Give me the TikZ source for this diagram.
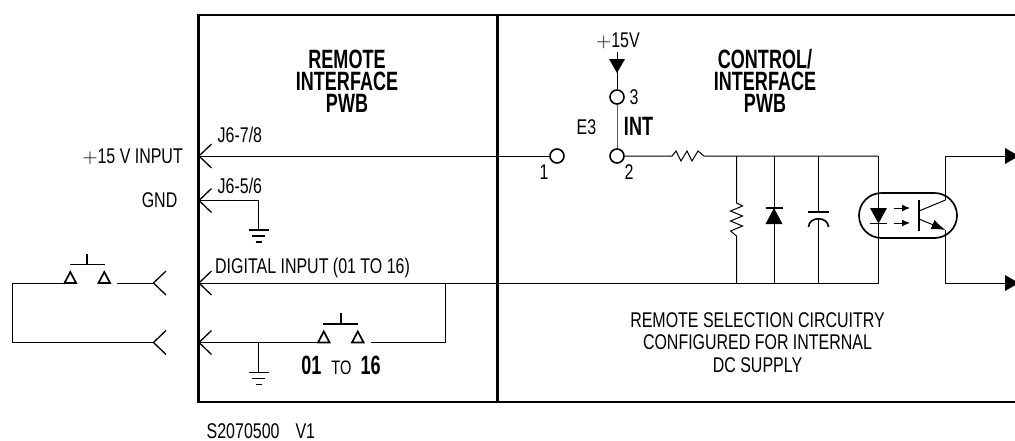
\documentclass[tikz,border=0pt]{standalone}
\usepackage{fontspec}
\setmainfont[FakeStretch=0.75]{Liberation Sans}
\newfontfamily\titlefont[FakeStretch=0.68]{Liberation Sans}
\usetikzlibrary{arrows.meta}
\usetikzlibrary{positioning}
\tikzset{wire/.style = {line width=1pt},
         frame/.style = {line width=2.4pt},
         terminal/.style = {circle, draw, line width=1.6pt, fill=white, minimum size=14pt, inner sep=0pt},
         lbl/.style = {inner sep=0pt, font=\fontsize{21.3}{21.3}\selectfont},
         title/.style = {inner sep=0pt, align=center, font=\titlefont\fontsize{26.5}{22}\selectfont\bfseries}}
\newcommand{\chevron}[1]{\draw [line width=1.3pt] (#1) ++(12.5, -12) -- (#1) -- ++(12.5, 12);}
\newcommand{\earth}[1]{
  \draw [line width=1.7pt] (#1) ++(-10, 0) -- ++(20, 0);
  \draw [line width=1.7pt] (#1) ++(-6.5, 6) -- ++(13, 0);
  \draw [line width=1.7pt] (#1) ++(-3, 12) -- ++(6, 0);
}
% push button, (#1) is the left corner of its first contact
\newcommand{\pushbutton}[1]{
  \draw [line width=1.7pt] (#1) -- ++(5.8, -11) -- ++(5.8, 11) -- cycle;
  \draw [line width=1.7pt] (#1) ++(34, 0) -- ++(5.8, -11) -- ++(5.8, 11) -- cycle;
  \draw [line width=1.7pt] (#1) ++(5, -18.5) -- ++(35, 0);
  \draw [line width=1.7pt] (#1) ++(22.8, -18.5) -- ++(0, -11);
}
\begin{document}
\begin{tikzpicture}[x=1pt, y=-1pt]
    \useasboundingbox (0, 0) rectangle (1015, 440);

    \coordinate (frameTL) at (198.5, 15);
    \coordinate (frameBL) at (198.5, 402);
    \coordinate (frameTM) at (497.5, 15);
    \coordinate (frameBM) at (497.5, 402);
    \coordinate (frameTR) at (1015, 15);
    \coordinate (frameBR) at (1015, 402);
    \draw [frame] (frameTR) -- (frameTL) -- (frameBL) -- (frameBR);
    \draw [frame] (frameTM) -- (frameBM);

    \node [terminal] (pinOne) at (557, 156) {};
    \node [terminal] (pinTwo) at (617, 156) {};
    \node [terminal] (pinThree) at (617, 97) {};

    \coordinate (jSeven) at (199, 156);
    \coordinate (jFive) at (199, 200.5);
    \coordinate (jDig) at (199, 283);
    \coordinate (jRet) at (199, 342.5);
    \coordinate (plugDig) at (153.5, 283);
    \coordinate (plugRet) at (153.5, 342.5);
    \foreach \p in {jSeven,jFive,jDig,jRet,plugDig,plugRet} {
      \chevron{\p}
    };

    % top supply
    \coordinate (supply) at (617, 52);
    \coordinate (supplyTip) at (617, 73);
    \draw [wire] (supply) -- (pinThree);
    \fill (supplyTip) -- ++(-8, -14) -- ++(16, 0) -- cycle;
    \draw [wire, gray!70!black] (pinThree) -- (pinTwo);

    \draw [wire] (jSeven) -- (pinOne);

    % series resistor and top rail
    \coordinate (resL) at (672, 156);
    \coordinate (resR) at (704, 156);
    \coordinate (railR) at (878, 156);
    \draw [wire] (pinTwo) -- (resL) -- ++(4, -5) -- ++(5, 10) -- ++(6, -10) -- ++(5, 10) -- ++(6, -10) -- (resR) -- (railR);

    \coordinate (busR) at (878, 283);
    \draw [wire] (jDig) -- (busR) -- (railR);

    % shunt resistor
    \draw [wire] (736.5, 156) -- (736.5, 203) -- ++(6, 3) -- ++(-12, 5) -- ++(12, 5) -- ++(-12, 5) -- ++(12, 5) -- ++(-12, 5) -- (736.5, 236) -- (736.5, 283);

    % shunt diode
    \draw [wire] (774, 156) -- (774, 283);
    \fill (774, 208) -- ++(8.5, 16) -- ++(-17, 0) -- cycle;
    \draw [line width=1.6pt] (765.5, 208) -- (782.5, 208);

    % capacitor
    \draw [wire] (818.5, 156) -- (818.5, 212);
    \draw [line width=1.6pt] (808, 212) -- (829, 212);
    \draw [line width=1.6pt] (808.5, 227) .. controls (809, 216) and (828, 216) .. (828.5, 227);
    \draw [wire] (818.5, 219) -- (818.5, 283);

    % opto coupler
    \node [draw, line width=1.7pt, rounded corners=22.5pt, minimum width=98pt, minimum height=45pt, inner sep=0pt] (opto) at (908, 215.5) {};
    \fill (870, 208) -- ++(17, 0) -- ++(-8.5, 15.5) -- cycle;
    \draw [line width=1.6pt] (870, 223.5) -- (887, 223.5);
    \foreach \y in {208, 223} {
      \draw [wire, -{Latex[length=8pt, width=7pt]}] (894, \y) -- (910, \y);
    };
    \draw [line width=1.8pt] (919, 200) -- (919, 231);
    \draw [wire] (919, 211) -- (945.5, 200);
    \draw [wire, -{Latex[length=14pt, width=10pt]}] (919, 219) -- (945.5, 230);

    % outputs
    \coordinate (outTop) at (1005, 156);
    \coordinate (outBot) at (1005, 283);
    \draw [wire] (945.5, 200) -- (945.5, 156) -- (outTop);
    \draw [wire] (945.5, 230) -- (945.5, 283) -- (outBot);
    \foreach \p in {outTop,outBot} {
      \fill (\p) ++(0, -8) -- ++(14, 8) -- ++(-14, 8) -- cycle;
    };

    % gnd branch
    \coordinate (gndOne) at (258.5, 230);
    \coordinate (gndTwo) at (258.5, 372.5);
    \draw [wire] (jFive) -| (gndOne);
    \earth{gndOne}
    \earth{gndTwo}

    % inner switch loop
    \coordinate (swIn) at (318, 342.5);
    \coordinate (swInR) at (371, 342.5);
    \coordinate (loopR) at (445.5, 342.5);
    \coordinate (loopTop) at (445.5, 283);
    \draw [wire] (jRet) -- (swIn);
    \draw [wire] (swInR) -- (loopR) -- (loopTop);
    \draw [wire] (258.5, 342.5) -- (gndTwo);
    \pushbutton{swIn}

    % outer switch loop
    \coordinate (extA) at (64.5, 283);
    \coordinate (extB) at (117, 283);
    \coordinate (extL) at (12.5, 283);
    \coordinate (extLL) at (12.5, 342.5);
    \draw [wire] (extA) -- (extL) -- (extLL) -- (plugRet);
    \draw [wire] (extB) -- (plugDig);
    \pushbutton{extA}

    \node [title] (remoteTitle) at (347, 81) {REMOTE\\INTERFACE\\PWB};
    \node [title] (controlTitle) at (765, 81) {CONTROL/\\INTERFACE\\PWB};
    \node [title] (intText) at (638.5, 126.5) {INT};
    \node [lbl] (eThree) at (586.5, 127) {E3};
    \node [lbl] (plusFifteen) at (618, 41) {$+$15V};
    \node [lbl] (pinThreeText) at (634, 97) {3};
    \node [lbl] (pinOneText) at (544, 172) {1};
    \node [lbl] (pinTwoText) at (629, 172) {2};
    \node [lbl, anchor=west] (jSevenText) at (217.5, 135) {J6-7/8};
    \node [lbl, anchor=west] (jFiveText) at (217.5, 185.5) {J6-5/6};
    \node [lbl, anchor=east] (inputText) at (183, 156.5) {$+$15 V INPUT};
    \node [lbl, anchor=east] (gndText) at (177.5, 200.5) {GND};
    \node [lbl, anchor=west] (digText) at (215, 267.5) {DIGITAL INPUT (01 TO 16)};
    \node [lbl] (rangeText) at (341, 365) {{\titlefont\fontsize{26.5}{26.5}\selectfont\bfseries 01}\hspace{10pt}{\fontsize{19.5}{19.5}\selectfont TO}\hspace{9pt}{\titlefont\fontsize{26.5}{26.5}\selectfont\bfseries 16}};
    \node [lbl, align=center, font=\fontsize{21.3}{22.5}\selectfont] (noteText) at (757.5, 342.5) {REMOTE SELECTION CIRCUITRY\\CONFIGURED FOR INTERNAL\\DC SUPPLY};
    \node [lbl, anchor=west] (partText) at (206.5, 431.5) {S2070500\hspace{16pt}V1};
\end{tikzpicture}
\end{document}
